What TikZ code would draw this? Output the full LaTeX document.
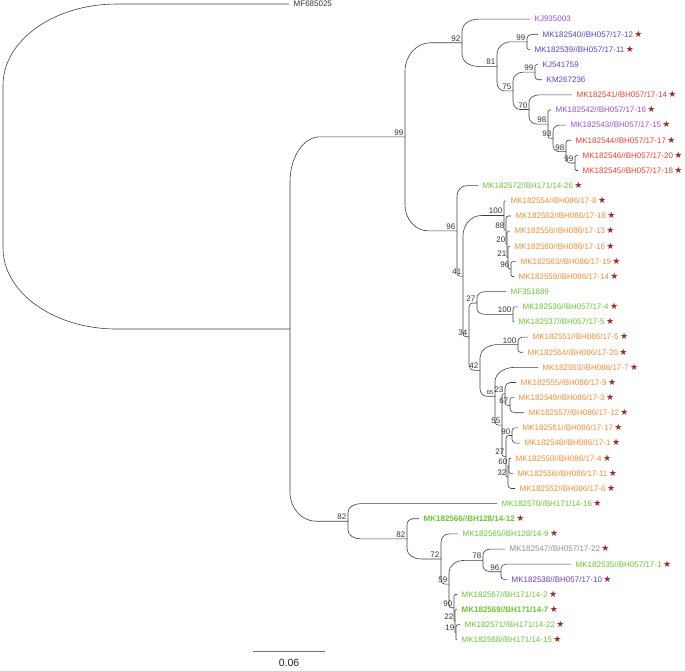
\documentclass[tikz,border=0pt]{standalone}
\usepackage{fontspec}
\setmainfont{Liberation Sans}
\newfontfamily\starfont{DejaVu Sans}
\usetikzlibrary{calc}

\definecolor{cpurple}{HTML}{A34BD3}
\definecolor{cindigo}{HTML}{5F3FCC}
\definecolor{cred}{HTML}{F03E2D}
\definecolor{cgreen}{HTML}{68C82F}
\definecolor{corange}{HTML}{F88B33}
\definecolor{cgrey}{HTML}{8E8E8E}
\definecolor{cstar}{HTML}{9E2A2B}

\newcommand{\mk}{\hspace{1.5pt}{\starfont\fontsize{9}{9}\selectfont\color{cstar}★}}
% rounded branch from parent #2 to child #3, corner at most #1 wide
\newcommand{\br}[3][30]{%
  \draw[branch] let \p1=(#2), \p2=(#3),
    \n1={min(0.45*(\x2-\x1),0.7*abs(\y2-\y1),#1)},
    \n2={min(0.5,0.5*(\x2-\x1)/abs(\y2-\y1),1.5*#1/abs(\y2-\y1))} in
    (\p1) -- (\x1,{\y2-\n2*(\y2-\y1)})
    .. controls (\x1,{\y2-0.448*\n2*(\y2-\y1)}) and ({\x1+0.448*\n1},\y2) ..
    ({\x1+\n1},\y2) -- (\p2);}

\begin{document}
\begin{tikzpicture}[x=1pt,y=-15.14pt,
  branch/.style={draw=black!75,line width=0.6pt},
  tiplab/.style={anchor=base west,inner sep=0pt,xshift=4.5pt,yshift=-2.85pt,font=\fontsize{8}{9}\selectfont},
  boot/.style={anchor=base east,inner sep=0pt,xshift=-1.5pt,yshift=1.5pt,text=black!80,font=\fontsize{8}{9}\selectfont}]

  \useasboundingbox (0,0.7358) rectangle (685,44.99);

  % internal nodes
  \coordinate (root) at (3,11.734);
  \coordinate (nin) at (290,22.468);
  \coordinate (n99) at (405,9.772);
  \coordinate (n92) at (462,3.559);
  \coordinate (a99) at (527,3.5);
  \coordinate (n81) at (497,5.117);
  \coordinate (n75) at (513,6.734);
  \coordinate (b99) at (535,5.5);
  \coordinate (n70) at (529,7.969);
  \coordinate (n98a) at (548,8.938);
  \coordinate (n93) at (553,9.875);
  \coordinate (n98b) at (566,10.75);
  \coordinate (c99) at (575,11.5);
  \coordinate (n96) at (457,15.986);
  \coordinate (n41) at (463,18.973);
  \coordinate (n100a) at (504,14.969);
  \coordinate (n88) at (506,15.938);
  \coordinate (n20) at (507,16.875);
  \coordinate (n21) at (508,17.75);
  \coordinate (n96b) at (511,18.5);
  \coordinate (n34) at (469,22.977);
  \coordinate (n27) at (477,20.75);
  \coordinate (n100b) at (513,21.5);
  \coordinate (n42) at (480,25.203);
  \coordinate (n100c) at (518,23.5);
  \coordinate (n65) at (495,26.906);
  \coordinate (n55) at (502,28.813);
  \coordinate (n23) at (505,26.75);
  \coordinate (n67) at (510,27.5);
  \coordinate (n27b) at (506,30.875);
  \coordinate (n90) at (512,29.5);
  \coordinate (n32) at (508,32.25);
  \coordinate (n60) at (509,31.5);
  \coordinate (n82a) at (348,35.164);
  \coordinate (n82b) at (407,36.328);
  \coordinate (n72) at (441,37.656);
  \coordinate (n59) at (449,39.313);
  \coordinate (n78) at (483,37.75);
  \coordinate (n96c) at (501,38.5);
  \coordinate (n90b) at (454,40.875);
  \coordinate (n22) at (455,41.75);
  \coordinate (n19) at (456,42.5);

  % tips
  \coordinate (t1) at (289,1);
  \coordinate (t2) at (530,2);
  \coordinate (t3) at (538,3);
  \coordinate (t4) at (530,4);
  \coordinate (t5) at (538,5);
  \coordinate (t6) at (542,6);
  \coordinate (t7) at (572,7);
  \coordinate (t8) at (551,8);
  \coordinate (t9) at (566,9);
  \coordinate (t10) at (571,10);
  \coordinate (t11) at (578,11);
  \coordinate (t12) at (578,12);
  \coordinate (t13) at (478,13);
  \coordinate (t14) at (506,14);
  \coordinate (t15) at (511,15);
  \coordinate (t16) at (510,16);
  \coordinate (t17) at (510,17);
  \coordinate (t18) at (516,18);
  \coordinate (t19) at (514,19);
  \coordinate (t20) at (506,20);
  \coordinate (t21) at (518,21);
  \coordinate (t22) at (514,22);
  \coordinate (t23) at (528,23);
  \coordinate (t24) at (523,24);
  \coordinate (t25) at (538,25);
  \coordinate (t26) at (516,26);
  \coordinate (t27) at (514,27);
  \coordinate (t28) at (524,28);
  \coordinate (t29) at (518,29);
  \coordinate (t30) at (520,30);
  \coordinate (t31) at (511,31);
  \coordinate (t32) at (513,32);
  \coordinate (t33) at (515,33);
  \coordinate (t34) at (497,34);
  \coordinate (t35) at (419,35);
  \coordinate (t36) at (458,36);
  \coordinate (t37) at (505,37);
  \coordinate (t38) at (571,38);
  \coordinate (t39) at (507,39);
  \coordinate (t40) at (457,40);
  \coordinate (t41) at (457,41);
  \coordinate (t42) at (460,42);
  \coordinate (t43) at (457,43);

  \br[300]{root}{t1}
  \br[300]{root}{nin}
  \foreach \pa/\ch in {nin/n99,nin/n82a,
      n99/n92,n99/n96,n92/t2,n92/n81,n81/a99,n81/n75,a99/t3,a99/t4,
      n75/b99,n75/n70,b99/t5,b99/t6,n70/t7,n70/n98a,n98a/t8,n98a/n93,
      n93/t9,n93/n98b,n98b/t10,n98b/c99,c99/t11,c99/t12,
      n96/t13,n96/n41,n41/n100a,n41/n34,n100a/t14,n100a/n88,n88/t15,n88/n20,
      n20/t16,n20/n21,n21/t17,n21/n96b,n96b/t18,n96b/t19,
      n34/n27,n34/n42,n27/t20,n27/n100b,n100b/t21,n100b/t22,
      n42/n100c,n42/n65,n100c/t23,n100c/t24,n65/t25,n65/n55,
      n55/n23,n55/n27b,n23/t26,n23/n67,n67/t27,n67/t28,
      n27b/n90,n27b/n32,n90/t29,n90/t30,n32/n60,n32/t33,n60/t31,n60/t32,
      n82a/t34,n82a/n82b,n82b/t35,n82b/n72,n72/t36,n72/n59,
      n59/n78,n59/n90b,n78/t37,n78/n96c,n96c/t38,n96c/t39,
      n90b/t40,n90b/n22,n22/t41,n22/n19,n19/t42,n19/t43}
    \br{\pa}{\ch};

  % tip labels
  \node[tiplab,text=black!80] (l1) at (t1) {MF685025};
  \node[tiplab,text=cpurple] (l2) at (t2) {KJ935003};
  \node[tiplab,text=cindigo] (l3) at (t3) {MK182540//BH057/17-12\mk};
  \node[tiplab,text=cindigo] (l4) at (t4) {MK182539//BH057/17-11\mk};
  \node[tiplab,text=cindigo] (l5) at (t5) {KJ541759};
  \node[tiplab,text=cindigo] (l6) at (t6) {KM267236};
  \node[tiplab,text=cred] (l7) at (t7) {MK182541//BH057/17-14\mk};
  \node[tiplab,text=cpurple] (l8) at (t8) {MK182542//BH057/17-16\mk};
  \node[tiplab,text=cpurple] (l9) at (t9) {MK182543//BH057/17-15\mk};
  \node[tiplab,text=cred] (l10) at (t10) {MK182544//BH057/17-17\mk};
  \node[tiplab,text=cred] (l11) at (t11) {MK182546//BH057/17-20\mk};
  \node[tiplab,text=cred] (l12) at (t12) {MK182545//BH057/17-18\mk};
  \node[tiplab,text=cgreen] (l13) at (t13) {MK182572//BH171/14-26\mk};
  \node[tiplab,text=corange] (l14) at (t14) {MK182554//BH086/17-8\mk};
  \node[tiplab,text=corange] (l15) at (t15) {MK182562//BH086/17-18\mk};
  \node[tiplab,text=corange] (l16) at (t16) {MK182558//BH086/17-13\mk};
  \node[tiplab,text=corange] (l17) at (t17) {MK182560//BH086/17-16\mk};
  \node[tiplab,text=corange] (l18) at (t18) {MK182563//BH086/17-19\mk};
  \node[tiplab,text=corange] (l19) at (t19) {MK182559//BH086/17-14\mk};
  \node[tiplab,text=cgreen] (l20) at (t20) {MF351889};
  \node[tiplab,text=cgreen] (l21) at (t21) {MK182536//BH057/17-4\mk};
  \node[tiplab,text=cgreen] (l22) at (t22) {MK182537//BH057/17-5\mk};
  \node[tiplab,text=corange] (l23) at (t23) {MK182551//BH086/17-5\mk};
  \node[tiplab,text=corange] (l24) at (t24) {MK182564//BH086/17-20\mk};
  \node[tiplab,text=corange] (l25) at (t25) {MK182553//BH086/17-7\mk};
  \node[tiplab,text=corange] (l26) at (t26) {MK182555//BH086/17-9\mk};
  \node[tiplab,text=corange] (l27) at (t27) {MK182549//BH086/17-3\mk};
  \node[tiplab,text=corange] (l28) at (t28) {MK182557//BH086/17-12\mk};
  \node[tiplab,text=corange] (l29) at (t29) {MK182561//BH086/17-17\mk};
  \node[tiplab,text=corange] (l30) at (t30) {MK182548//BH086/17-1\mk};
  \node[tiplab,text=corange] (l31) at (t31) {MK182550//BH086/17-4\mk};
  \node[tiplab,text=corange] (l32) at (t32) {MK182556//BH086/17-11\mk};
  \node[tiplab,text=corange] (l33) at (t33) {MK182552//BH086/17-6\mk};
  \node[tiplab,text=cgreen] (l34) at (t34) {MK182570//BH171/14-16\mk};
  \node[tiplab,text=cgreen] (l35) at (t35) {\bfseries MK182566//BH128/14-12\mk};
  \node[tiplab,text=cgreen] (l36) at (t36) {MK182565//BH128/14-9\mk};
  \node[tiplab,text=cgrey] (l37) at (t37) {MK182547//BH057/17-22\mk};
  \node[tiplab,text=cgreen] (l38) at (t38) {MK182535//BH057/17-1\mk};
  \node[tiplab,text=cindigo] (l39) at (t39) {MK182538//BH057/17-10\mk};
  \node[tiplab,text=cgreen] (l40) at (t40) {MK182567//BH171/14-2\mk};
  \node[tiplab,text=cgreen] (l41) at (t41) {\bfseries MK182569//BH171/14-7\mk};
  \node[tiplab,text=cgreen] (l42) at (t42) {MK182571//BH171/14-22\mk};
  \node[tiplab,text=cgreen] (l43) at (t43) {MK182568//BH171/14-15\mk};

  % bootstrap values
  \foreach \nd/\bs in {n92/92,a99/99,n81/81,b99/99,n75/75,n70/70,n98a/98,
      n93/93,n98b/98,c99/99,n99/99,n96/96,n41/41,n100a/100,n88/88,n20/20,
      n21/21,n96b/96,n34/34,n27/27,n100b/100,n42/42,n100c/100,n23/23,
      n67/67,n55/55,n90/90,n27b/27,n60/60,n32/32,n82a/82,n82b/82,n72/72,
      n59/59,n78/78,n96c/96,n90b/90,n22/22,n19/19}
    \node[boot] (s\nd) at (\nd) {\bs};
  \node[boot,font=\fontsize{6}{7}\selectfont] (sn65) at (n65) {65};

  % scale bar
  \coordinate (sb1) at (253,43.78);
  \coordinate (sb2) at (325,43.78);
  \draw[black!55,line width=0.7pt] (sb1) -- (sb2);
  \node[anchor=north,inner sep=0pt,yshift=-7.5pt,font=\fontsize{10.5}{12}\selectfont,text=black!85]
    (sblab) at ($(sb1)!0.5!(sb2)$) {0.06};
\end{tikzpicture}
\end{document}
